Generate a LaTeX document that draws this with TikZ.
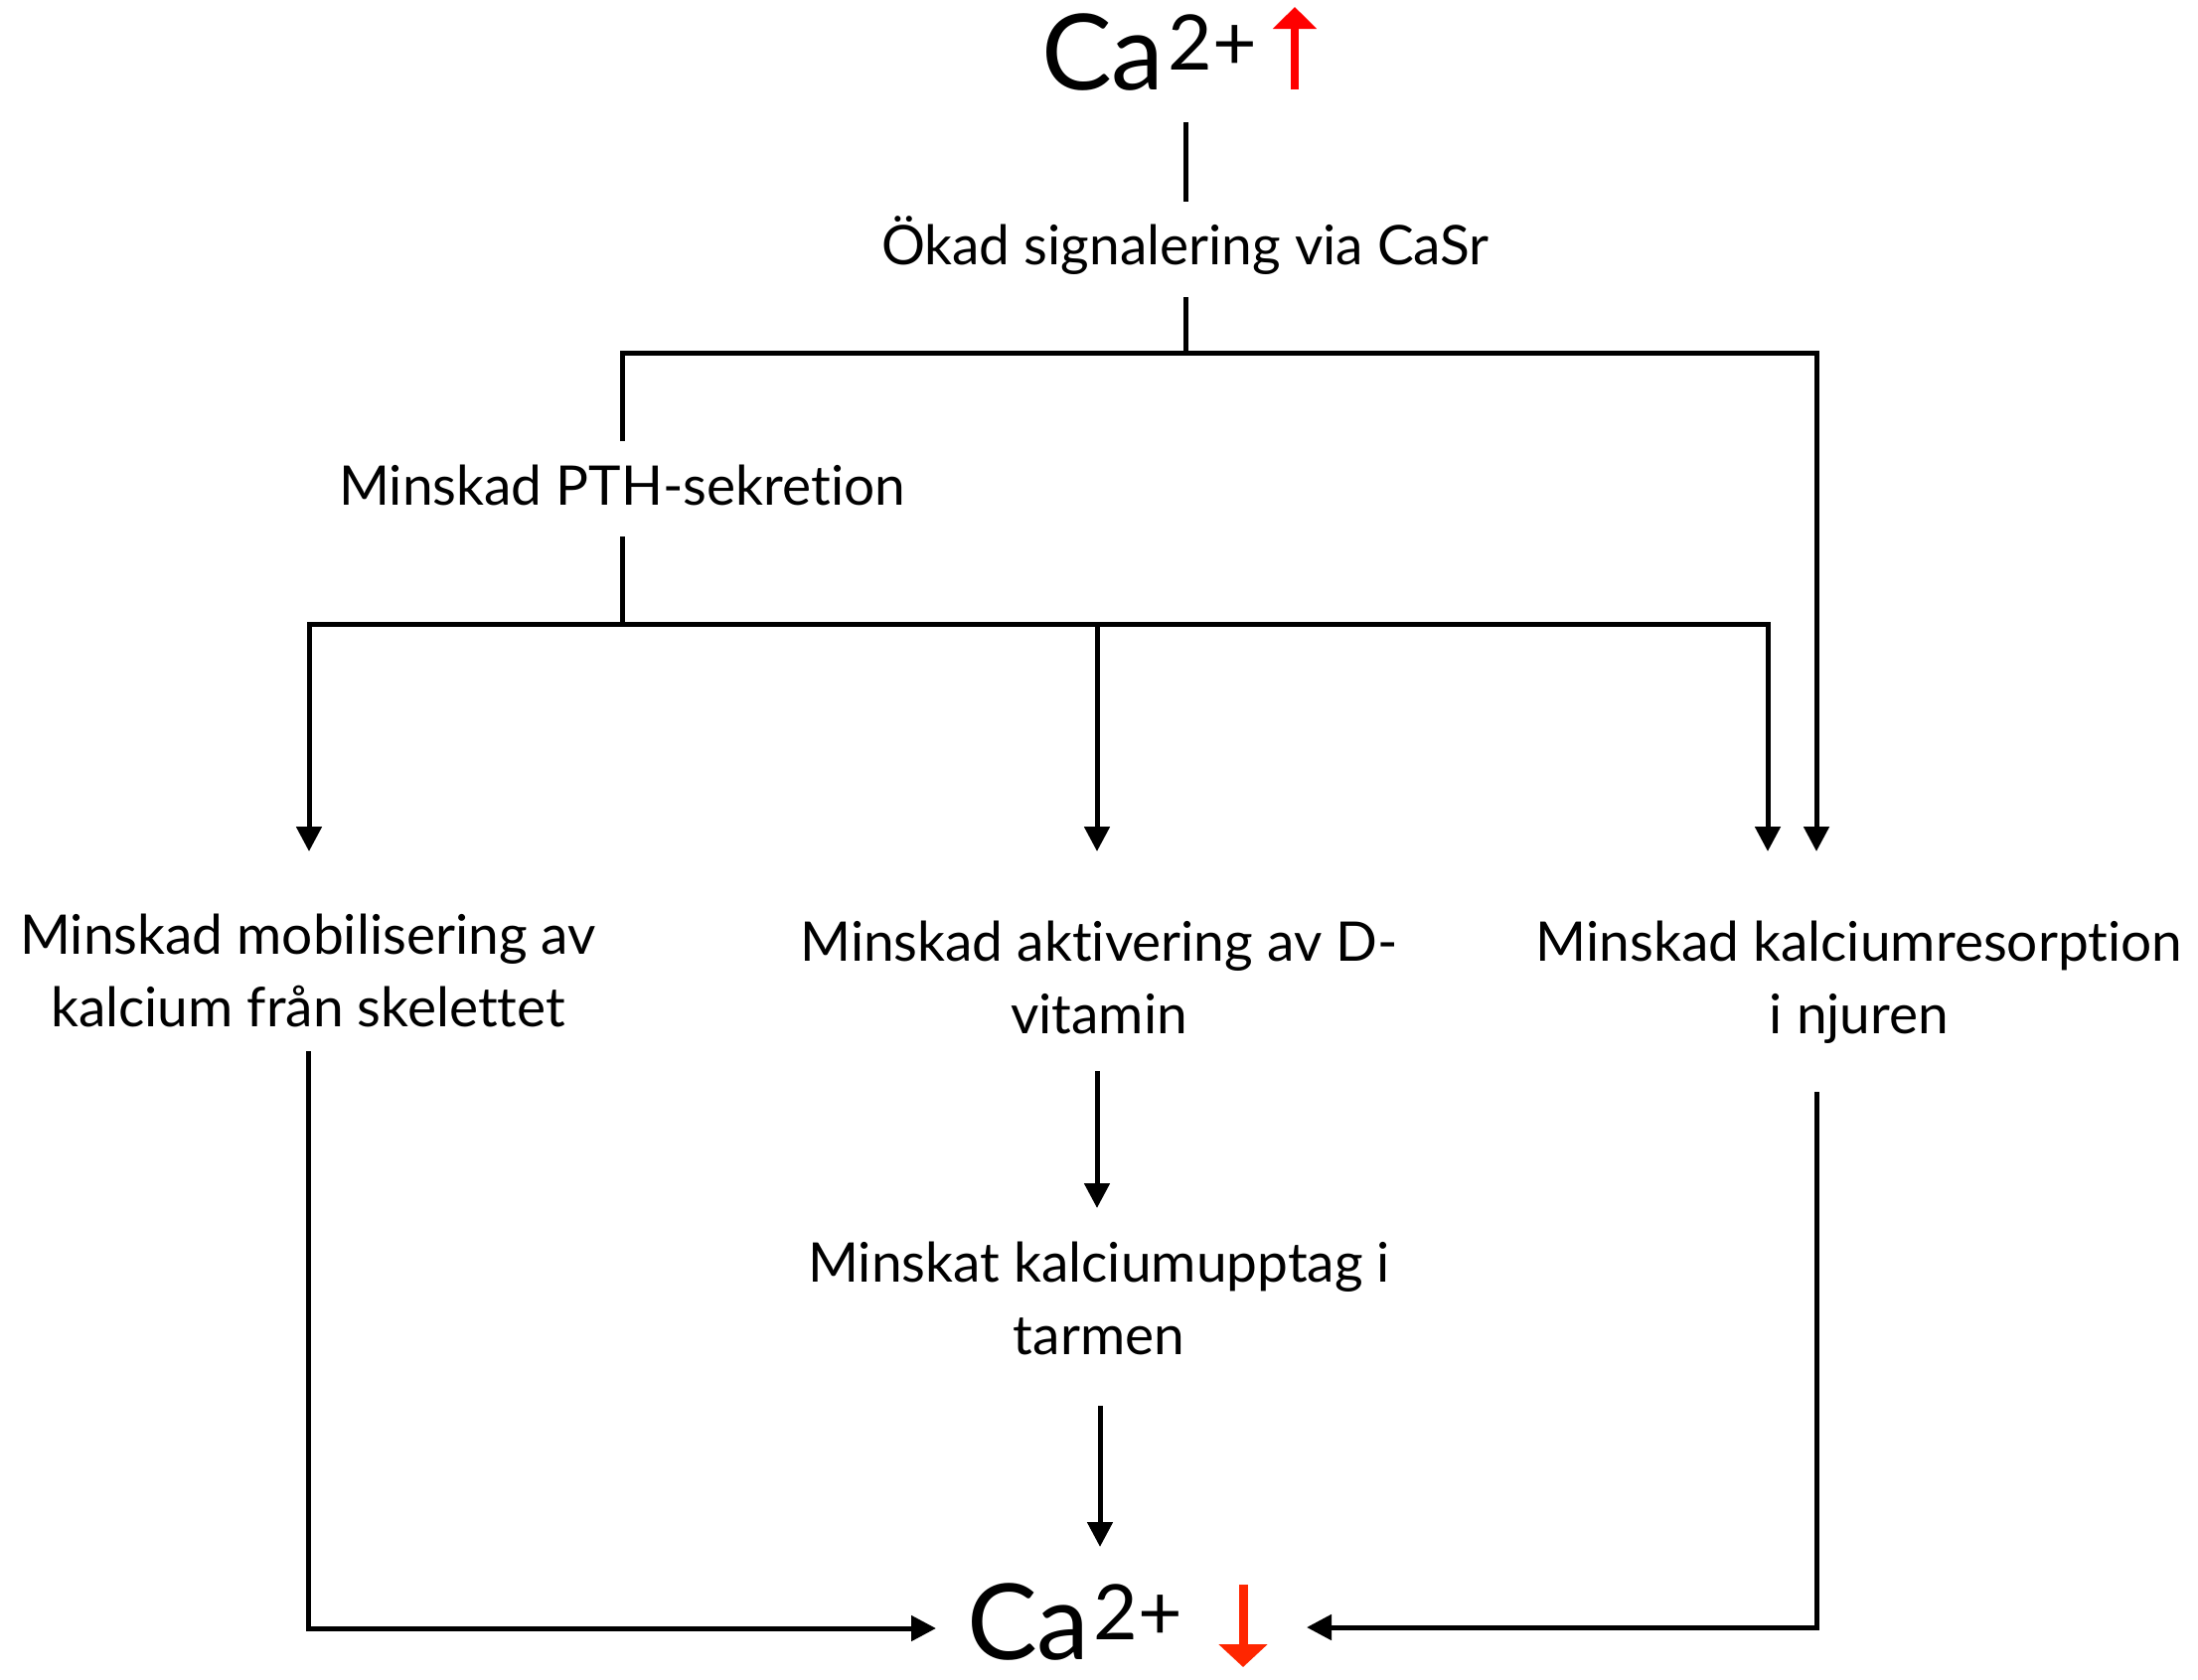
\documentclass[tikz,border=0pt]{standalone}
\usepackage{fontspec}
\setmainfont{Lato}[Ligatures={NoCommon}]
\usetikzlibrary{arrows.meta,calc}
\definecolor{uparrow}{HTML}{FF0000}
\definecolor{downarrow}{HTML}{FF2600}
\newcommand\ionsup[1]{\hspace{4pt}\raisebox{20pt}{\fontsize{77}{77}\selectfont #1}}
\begin{document}
\begin{tikzpicture}[x=1pt,y=-1pt,
  wire/.style={line width=5pt},
  flow/.style={wire,-{Triangle[length=25pt,width=25pt]}},
  txt/.style={inner sep=0pt,outer sep=0pt,anchor=base,align=center,
    font=\fontsize{55}{73}\selectfont},
  ion/.style={inner sep=0pt,outer sep=0pt,anchor=base west,
    font=\fontsize{106}{110}\selectfont}]
\fill[white] (0,0) rectangle (2212,1690);
\useasboundingbox (0,0) rectangle (2212,1690);

% text nodes (multi-line nodes sit on the baseline of their last line)
\node[ion] (ca1) at (1048,90) {Ca\ionsup{2+}};
\node[txt] (sig) at (1193,266) {Ökad signalering via CaSr};
\node[txt] (pth) at (626,508) {Minskad PTH-sekretion};
\node[txt] (mob) at (310,1033) {Minskad mobilisering av\\kalcium från skelettet};
\node[txt] (act) at (1106,1040) {Minskad aktivering av D-\\vitamin};
\node[txt] (kal) at (1871,1040) {Minskad kalciumresorption\\i njuren};
\node[txt] (upt) at (1106,1363) {Minskat kalciumupptag i\\tarmen};
\node[ion] (ca2) at (973,1670) {Ca\ionsup{2+}};

% junctions and arrow ends
\coordinate (j1) at (1193,355);
\coordinate (j2) at (626,628);
\coordinate (mobin) at ($(mob.base)+(1,-176)$);
\coordinate (actin) at ($(act.base)+(-2,-183)$);
\coordinate (kalin) at ($(kal.base)+(-92,-183)$);
\coordinate (kalin2) at ($(kal.base)+(-43,-183)$);
\coordinate (caL) at ($(ca2.base west)+(-31,-31)$);
\coordinate (caR) at ($(ca2.base west)+(342,-32)$);

% red trend arrows
\draw[uparrow,line width=8pt,-{Triangle[length=22pt,width=43pt]}]
  (ca1.base west) ++(255,0) -- ++(0,-83);
\draw[downarrow,line width=9pt,-{Triangle[length=23pt,width=48pt]}]
  (ca2.base west) ++(278,-75) -- ++(0,83);

% connectors
\draw[wire] (ca1.base -| sig.base) ++(0,33) -- ++(0,80);
\draw[wire] (sig.base) ++(0,33) -- (j1);
\draw[flow] (pth.base) ++(0,-64) |- (j1) -| (kalin2);
\draw[wire] (pth.base) ++(0,32) -- (j2);
\draw[flow] (j2) -| (mobin);
\draw[flow] (j2) -| (kalin);
\draw[flow] (actin |- j2) -- (actin);
\draw[flow] (mob.base) ++(0,25) |- (caL);
\draw[flow] (act.base) ++(-2,38) -- ++(0,138);
\draw[flow] (upt.base) ++(1,52) -- ++(0,142);
\draw[flow] (kal.base) ++(-43,59) |- (caR);
\end{tikzpicture}
\end{document}
